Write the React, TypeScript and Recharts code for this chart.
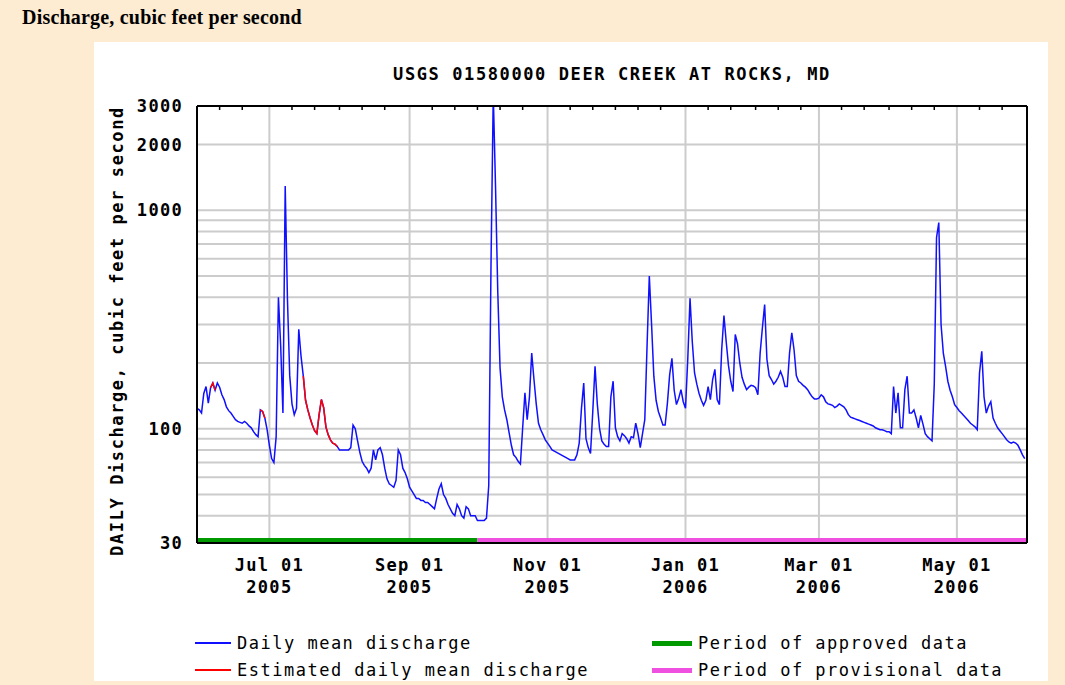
import React from 'react';
import { LineChart, Line, XAxis, YAxis, ReferenceLine } from 'recharts';

// day 0 = May 30 2005, one value per day (cfs)
const discharge = [
  124, 122, 118, 145, 156, 131, 154, 162, 150, 162,
  155, 143, 136, 126, 121, 118, 114, 110, 108, 107,
  106, 108, 106, 103, 101, 97, 94, 92, 122, 120,
  112, 99, 84, 73, 70, 92, 400, 240, 118, 1290,
  390, 175, 130, 116, 124, 285, 215, 174, 135, 122,
  112, 104, 98, 95, 116, 136, 125, 102, 94, 89,
  86, 85, 83, 80, 80, 80, 80, 80, 82, 104,
  100, 88, 78, 71, 68, 66, 63, 66, 80, 72,
  80, 82, 76, 66, 59, 56, 55, 54, 58, 80,
  76, 66, 63, 59, 54, 52, 50, 48, 48, 47,
  47, 46, 46, 45, 44, 43, 48, 53, 56, 50,
  48, 45, 43, 41, 40, 45, 43, 40, 39, 44,
  43, 40, 40, 40, 38, 38, 38, 38, 39, 55,
  565, 3400, 1280, 420, 190, 140, 122, 110, 96, 84,
  76, 74, 71, 69, 101, 146, 110, 140, 222, 168,
  130, 106, 99, 94, 89, 86, 83, 80, 79, 78,
  77, 76, 75, 74, 73, 72, 72, 72, 76, 86,
  124, 162, 90, 82, 77, 120, 193, 130, 100, 88,
  85, 83, 83, 140, 165, 101, 92, 88, 95, 93,
  90, 86, 92, 91, 106, 95, 82, 95, 110, 239,
  500, 300, 174, 135, 120, 112, 104, 104, 131, 177,
  210, 150, 129, 138, 151, 133, 124, 208, 395, 250,
  180, 160, 145, 135, 128, 135, 156, 136, 168, 187,
  136, 129, 230, 330, 250, 195, 165, 148, 270, 245,
  200, 172, 160, 151, 155, 158, 157, 154, 143, 222,
  290, 370, 208, 175, 168, 160, 165, 172, 183, 172,
  156, 156, 222, 275, 230, 175, 165, 162, 158, 155,
  151, 145, 140, 137, 137, 138, 143, 140, 133, 130,
  129, 128, 125, 127, 130, 128, 126, 122, 116, 113,
  112, 111, 110, 109, 108, 107, 106, 105, 104, 103,
  101, 100, 99, 99, 98, 97, 97, 95, 156, 118,
  146, 101, 101, 151, 174, 118, 118, 122, 112, 101,
  115, 105, 95, 92, 90, 88, 160, 750, 879, 300,
  222, 193, 165, 150, 140, 129, 125, 121, 118, 115,
  112, 109, 106, 104, 102, 99, 180, 226, 140, 118,
  127, 133, 112, 106, 101, 98, 95, 92, 89, 87,
  86, 87, 86, 84, 80, 76, 73,
];

// estimated (red) day ranges
const estimatedRanges = [[6, 8], [28, 30], [47, 62]];

const monthTickDays = [32, 94, 155, 216, 275, 336];
const monthTickNames = ['Jul 01', 'Sep 01', 'Nov 01', 'Jan 01', 'Mar 01', 'May 01'];
const monthTickYears = ['2005', '2005', '2005', '2006', '2006', '2006'];
const minorTickDays = [10, 20, 42, 52, 63, 73, 83, 104, 114, 124, 134, 144, 165, 175, 185, 195, 205,
  226, 236, 247, 257, 267, 285, 295, 306, 316, 326, 346, 356];

const yTicks = [30, 100, 1000, 2000, 3000];
const yGrid = [40, 50, 60, 70, 80, 90, 100, 200, 300, 400, 500, 600, 700, 800, 900, 1000, 2000];

const approvedEnd = 124; // Oct 01 2005
const lastDay = 367;

const rows = discharge.map((q, day) => ({
  day,
  q,
  est: estimatedRanges.some(([a, b]) => day >= a && day <= b) ? q : null,
}));

const mono = '"DejaVu Sans Mono", "Liberation Mono", monospace';

const MonthTick = ({ x, y, payload }: any) => {
  const i = monthTickDays.indexOf(payload.value);
  return (
    <g>
      <text x={x} y={y + 28} textAnchor="middle" fontFamily={mono} fontWeight="bold" fontSize={17} letterSpacing={1.3} fill="#000">
        {monthTickNames[i]}
      </text>
      <text x={x} y={y + 50} textAnchor="middle" fontFamily={mono} fontWeight="bold" fontSize={17} letterSpacing={1.3} fill="#000">
        {monthTickYears[i]}
      </text>
    </g>
  );
};

export default function App() {
  const legendText: React.CSSProperties = {
    position: 'absolute',
    fontFamily: mono,
    fontSize: 17,
    letterSpacing: 1.5,
    lineHeight: '20px',
    color: '#000',
    whiteSpace: 'nowrap',
  };
  return (
    <div style={{ position: 'relative', width: 1065, height: 685, background: '#fdebd2', overflow: 'hidden' }}>
      <style>{'body{margin:0}'}</style>
      <div style={{ position: 'absolute', left: 94, top: 42, width: 954, height: 639, background: '#fff' }} />
      <div style={{ position: 'absolute', left: 22, top: 3, fontFamily: '"Liberation Serif", serif', fontWeight: 'bold', fontSize: 20, letterSpacing: 0.2, lineHeight: '28px' }}>
        Discharge, cubic feet per second
      </div>
      <div style={{ position: 'absolute', left: 312, top: 64, width: 600, textAlign: 'center', fontFamily: mono, fontWeight: 'bold', fontSize: 17, letterSpacing: 1.6 }}>
        USGS 01580000 DEER CREEK AT ROCKS, MD
      </div>
      <div style={{
        position: 'absolute', left: 117 - 240, top: 331 - 10, width: 480, height: 20, lineHeight: '20px',
        textAlign: 'center', transform: 'rotate(-90deg)', fontFamily: mono, fontWeight: 'bold', fontSize: 17, letterSpacing: 1.6,
      }}>
        DAILY Discharge, cubic feet per second
      </div>

      <div style={{ position: 'absolute', left: 0, top: 0 }}>
        <LineChart width={1065} height={685} data={rows} margin={{ top: 106, right: 28, bottom: 92, left: 137 }}>
          {yGrid.map((v) => (
            <ReferenceLine key={'h' + v} y={v} stroke="#cccccc" strokeWidth={2} />
          ))}
          {monthTickDays.map((d) => (
            <ReferenceLine key={'v' + d} x={d} stroke="#cccccc" strokeWidth={2} />
          ))}
          <XAxis
            dataKey="day"
            type="number"
            domain={[0, lastDay]}
            ticks={monthTickDays}
            allowDataOverflow
            height={50}
            tickLine={false}
            tickSize={0}
            tickMargin={0}
            tick={<MonthTick />}
            axisLine={{ stroke: '#000', strokeWidth: 2 }}
            interval={0}
          />
          <XAxis
            xAxisId="top"
            orientation="top"
            dataKey="day"
            type="number"
            domain={[0, lastDay]}
            ticks={minorTickDays}
            allowDataOverflow
            height={1}
            mirror
            tickSize={4}
            tickFormatter={() => ''}
            tickLine={{ stroke: '#000', strokeWidth: 1.5 }}
            axisLine={{ stroke: '#000', strokeWidth: 2 }}
            interval={0}
          />
          <YAxis
            scale="log"
            type="number"
            domain={[30, 3000]}
            ticks={yTicks}
            allowDataOverflow
            width={60}
            tickLine={false}
            tickSize={6}
            tickMargin={8}
            interval={0}
            tick={{ fill: '#000', fontFamily: mono, fontWeight: 'bold', fontSize: 17, letterSpacing: 1.3 }}
            axisLine={{ stroke: '#000', strokeWidth: 2 }}
          />
          <YAxis
            yAxisId="right"
            orientation="right"
            scale="log"
            type="number"
            domain={[30, 3000]}
            width={10}
            tick={false}
            tickLine={false}
            axisLine={{ stroke: '#000', strokeWidth: 2 }}
          />
          <ReferenceLine
            segment={[{ x: 0, y: 31 }, { x: approvedEnd, y: 31 }]}
            stroke="#009900"
            strokeWidth={4}
          />
          <ReferenceLine
            segment={[{ x: approvedEnd, y: 31 }, { x: lastDay, y: 31 }]}
            stroke="#f050e0"
            strokeWidth={4}
          />
          <Line dataKey="q" type="linear" stroke="#1010ff" strokeWidth={1.5} dot={false} isAnimationActive={false} />
          <Line dataKey="est" type="linear" stroke="#ff0000" strokeWidth={1.5} dot={false} isAnimationActive={false} connectNulls={false} />
        </LineChart>
      </div>

      <div style={{ position: 'absolute', left: 195, top: 642, width: 36, height: 2, background: '#1010ff' }} />
      <div style={{ ...legendText, left: 237, top: 633 }}>Daily mean discharge</div>
      <div style={{ position: 'absolute', left: 195, top: 669, width: 36, height: 2, background: '#ff0000' }} />
      <div style={{ ...legendText, left: 237, top: 660 }}>Estimated daily mean discharge</div>
      <div style={{ position: 'absolute', left: 652, top: 641, width: 40, height: 5, background: '#009900' }} />
      <div style={{ ...legendText, left: 698, top: 633 }}>Period of approved data</div>
      <div style={{ position: 'absolute', left: 652, top: 668, width: 40, height: 5, background: '#f050e0' }} />
      <div style={{ ...legendText, left: 698, top: 660 }}>Period of provisional data</div>
    </div>
  );
}
